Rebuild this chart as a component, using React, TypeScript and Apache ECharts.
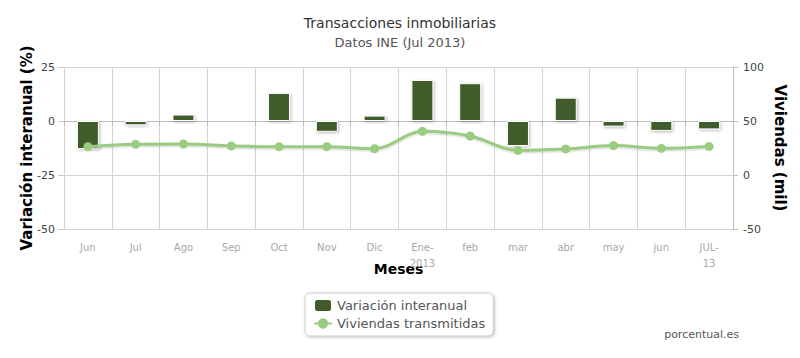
import React, { useEffect, useRef } from "react";
import * as echarts from "echarts";

const categories = ["Jun", "Jul", "Ago", "Sep", "Oct", "Nov", "Dic", "Ene-\n2013", "feb", "mar", "abr", "may", "jun", "JUL-\n13"];
const variacion = [-13, -2, 3, 0.4, 13, -5, 2.5, 19, 17.5, -11.6, 10.8, -2.6, -4.6, -3.9];
const viviendas = [26.2, 28.4, 28.7, 26.9, 26.2, 26.2, 24.4, 40.4, 36.1, 22.8, 24.1, 27.2, 24.7, 26.5];
const leftTicks = { min: -50, max: 25, interval: 25 };
const rightTicks = { min: -50, max: 100, interval: 50 };

const FONT = "DejaVu Sans";

export default function App() {
  const ref = useRef<HTMLDivElement>(null);
  useEffect(() => {
    if (!ref.current) return;
    const chart = echarts.init(ref.current, null, { renderer: "svg" });
    chart.setOption({
      animation: false,
      backgroundColor: "#fff",
      textStyle: { fontFamily: FONT },
      title: {
        text: "Transacciones inmobiliarias",
        subtext: "Datos INE (Jul 2013)",
        left: "center",
        top: 11,
        itemGap: 6,
        textStyle: { fontFamily: FONT, fontSize: 14, fontWeight: "normal", color: "#333" },
        subtextStyle: { fontFamily: FONT, fontSize: 13, color: "#555" },
      },
      legend: {
        orient: "vertical",
        left: 305,
        top: 293,
        width: 190,
        padding: [5, 8, 6, 8],
        itemGap: 4,
        itemWidth: 18,
        itemHeight: 13,
        borderColor: "#ccc",
        borderWidth: 1,
        borderRadius: 5,
        backgroundColor: "#fff",
        shadowColor: "rgba(0,0,0,0.25)",
        shadowBlur: 3,
        shadowOffsetX: 1,
        shadowOffsetY: 1,
        textStyle: { fontFamily: FONT, fontSize: 13, color: "#555" },
        data: [
          { name: "Variación interanual", icon: "roundRect" },
          { name: "Viviendas transmitidas" },
        ],
      },
      graphic: [
        {
          type: "text",
          right: 61,
          top: 329,
          style: { text: "porcentual.es", fontFamily: FONT, fontSize: 11, fill: "#555" },
        },
      ],
      grid: { left: 64, right: 67, top: 67, bottom: 129 },
      xAxis: {
        type: "category",
        data: categories,
        name: "Meses",
        nameLocation: "middle",
        nameGap: 33,
        nameMoveOverlap: false,
        nameTextStyle: { fontFamily: FONT, fontSize: 14, fontWeight: "bold", color: "#000" },
        axisLine: { lineStyle: { color: "#bbb" } },
        axisTick: { show: true, length: 5, lineStyle: { color: "#bbb" } },
        axisLabel: { color: "#a8a8a8", fontSize: 10, fontFamily: FONT, margin: 10, lineHeight: 16 },
        splitLine: { show: true, lineStyle: { color: "#d4d4d4" } },
      },
      yAxis: [
        {
          type: "value",
          min: leftTicks.min,
          max: leftTicks.max,
          interval: leftTicks.interval,
          name: "Variación interanual (%)",
          nameLocation: "middle",
          nameRotate: 90,
          nameGap: 30,
          nameMoveOverlap: false,
          nameTextStyle: { fontFamily: FONT, fontSize: 15, fontWeight: "bold", color: "#000" },
          axisLine: { show: false },
          axisTick: { show: true, length: 6, lineStyle: { color: "#ccc" } },
          axisLabel: { color: "#444", fontSize: 11, fontFamily: FONT, margin: 9 },
          splitLine: { show: true, lineStyle: { color: "#d4d4d4" } },
        },
        {
          type: "value",
          min: rightTicks.min,
          max: rightTicks.max,
          interval: rightTicks.interval,
          name: "Viviendas (mil)",
          nameLocation: "middle",
          nameRotate: -90,
          nameGap: 39,
          nameMoveOverlap: false,
          nameTextStyle: { fontFamily: FONT, fontSize: 15, fontWeight: "bold", color: "#000" },
          axisLine: { show: true, lineStyle: { color: "#bbb" } },
          axisTick: { show: true, length: 5, lineStyle: { color: "#bbb" } },
          axisLabel: { color: "#444", fontSize: 11, fontFamily: FONT, margin: 10 },
          splitLine: { show: false },
        },
      ],
      series: [
        {
          name: "Variación interanual",
          type: "bar",
          yAxisIndex: 0,
          data: variacion,
          barWidth: 22,
          itemStyle: {
            color: "#3f5b29",
            borderColor: "#fff",
            borderWidth: 1,
            shadowColor: "rgba(0,0,0,0.3)",
            shadowBlur: 3,
            shadowOffsetX: 1,
            shadowOffsetY: 1,
          },
        },
        {
          name: "Viviendas transmitidas",
          type: "line",
          yAxisIndex: 1,
          data: viviendas,
          smooth: 0.35,
          symbol: "circle",
          symbolSize: 9,
          lineStyle: {
            color: "#99cc80",
            width: 3,
            shadowColor: "rgba(0,0,0,0.2)",
            shadowBlur: 2,
            shadowOffsetY: 1,
          },
          itemStyle: { color: "#99cc80" },
        },
      ],
    });
    return () => chart.dispose();
  }, []);
  return <div ref={ref} style={{ width: 800, height: 358, margin: -8 }} />;
}
